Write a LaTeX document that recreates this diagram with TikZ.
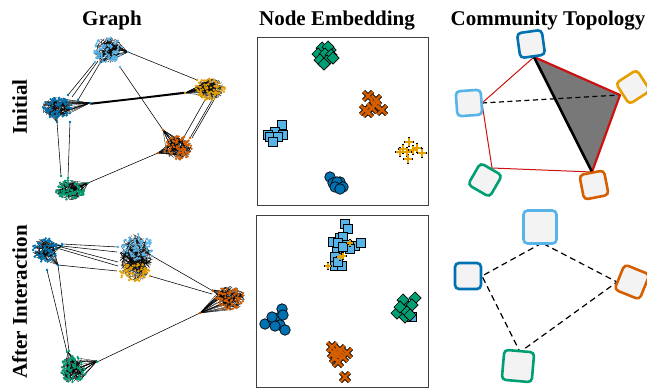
\documentclass[tikz,border=0pt]{standalone}
\usepackage{fontspec}
\setmainfont{Liberation Serif}
\definecolor{dblue}{HTML}{0072B2}
\definecolor{lblue}{HTML}{56B4E9}
\definecolor{yorg}{HTML}{E69F00}
\definecolor{verm}{HTML}{D55E00}
\definecolor{grn}{HTML}{009E73}
\definecolor{redl}{HTML}{CC1111}
\definecolor{trigray}{HTML}{787878}
\definecolor{sqfill}{HTML}{F3F3F3}
\newcommand\gmesh[5]{\foreach \k in {1,...,#5}{%
  \pgfmathsetmacro\ra{sqrt(rnd)}\pgfmathsetmacro\aa{360*rnd}%
  \pgfmathsetmacro\rb{sqrt(rnd)}\pgfmathsetmacro\ab{360*rnd}%
  \draw[meshl] ({#1+#3*\ra*cos(\aa)},{#2+#4*\ra*sin(\aa)}) -- ({#1+#3*\rb*cos(\ab)},{#2+#4*\rb*sin(\ab)});}}
\newcommand\gfan[7]{\foreach \k in {1,...,#7}{%
  \pgfmathsetmacro\ra{sqrt(rnd)}\pgfmathsetmacro\aa{360*rnd}%
  \draw[meshl] (#1,#2) -- ({#3+#5*\ra*cos(\aa)},{#4+#6*\ra*sin(\aa)});}}
\newcommand\gdots[6]{\foreach \k in {1,...,#6}{%
  \pgfmathsetmacro\ra{sqrt(rnd)}\pgfmathsetmacro\aa{360*rnd}%
  \fill[#5] ({#1+#3*\ra*cos(\aa)},{#2+#4*\ra*sin(\aa)}) circle[radius=1.3pt];}}
\begin{document}
\begin{tikzpicture}[x=1pt,y=-1pt,
  ttl/.style={font=\fontsize{21}{21}\selectfont\bfseries, anchor=base, inner sep=0},
  meshl/.style={black, line width=0.3pt},
  gedge/.style={black, line width=0.55pt},
  hub/.style={radius=1.3pt},
  ebox/.style={draw=black!75, line width=1pt},
  msq/.style={rectangle, draw=black, fill=lblue, line width=0.7pt, minimum size=8.5pt, inner sep=0},
  mci/.style={circle, draw=black, fill=dblue, line width=0.7pt, minimum size=10.5pt, inner sep=0},
  mdi/.style={rectangle, rotate=45, draw=black, fill=grn, line width=0.7pt, minimum size=8.5pt, inner sep=0},
  xo/.style={black, line width=4.4pt},
  xi/.style={verm, line width=2.8pt},
  po/.style={black, line width=2.8pt},
  pi/.style={yorg, line width=1.6pt},
  csq/.style={rectangle, rounded corners=4pt, fill=sqfill, line width=2.6pt, inner sep=0},
  tdash/.style={black, line width=1.2pt, dash pattern=on 5pt off 3.5pt},
  bdash/.style={black, line width=1.2pt, dash pattern=on 6pt off 4pt},
]
\useasboundingbox (0,0) rectangle (647,388);
\pgfmathsetseed{7}
% ---------- titles ----------
\node[ttl] (tgraph) at (112,25) {Graph};
\node[ttl] (temb) at (337,25) {Node Embedding};
\node[ttl] (ttop) at (548,25) {Community Topology};
\node[ttl, rotate=90] (tinit) at (27,107) {Initial};
\node[ttl, rotate=90] (tafter) at (27,302) {After Interaction};
% ---------- top graph ----------
\draw[gedge] (128,52) -- (197,80);
\draw[gedge] (95,62) -- (68,95) (100,63) -- (78,100) (98,61) -- (72,97);
\draw[gedge] (120,67) -- (163,130);
\draw[gedge] (90,103) -- (185,92.5) (90,104) -- (185,93) (90.5,104.5) -- (185.5,93.5) (90,103.5) -- (184.5,92);
\draw[gedge] (57,122) -- (61,176) (70,122) -- (68,178);
\draw[gedge] (88,183) -- (158,153);
\draw[gedge] (205,100) -- (184,137) (212,100) -- (190,138) (214,100) -- (192,138);
% LB
\gmesh{108}{50}{15}{13}{90}
\gfan{128}{52}{108}{50}{15}{13}{18}
\gfan{100}{63}{108}{50}{15}{13}{8}
\gdots{108}{50}{15}{13}{lblue}{85}
% DB
\gmesh{57}{108}{15}{11}{90}
\gfan{90}{103}{57}{108}{15}{11}{20}
\gfan{57}{122}{57}{108}{15}{11}{6}
\gdots{57}{108}{15}{11}{dblue}{85}
% Y
\gmesh{210}{89}{15}{11}{90}
\gfan{185}{93}{210}{89}{15}{11}{20}
\gdots{210}{89}{15}{11}{yorg}{85}
% V
\gmesh{178}{148}{14}{12}{90}
\gfan{158}{153}{178}{148}{14}{12}{16}
\gfan{163}{130}{178}{148}{14}{12}{14}
\gdots{178}{148}{14}{12}{verm}{85}
% G
\gmesh{70}{190}{15}{10}{90}
\gfan{88}{183}{70}{190}{15}{10}{18}
\gdots{70}{190}{15}{10}{grn}{85}
\foreach \p in {(128,52),(95,62),(100,63),(120,67)} \fill[lblue] \p circle[hub];
\foreach \p in {(90,103),(57,122),(70,122),(68,95),(78,100)} \fill[dblue] \p circle[hub];
\foreach \p in {(185,93),(197,80),(205,100),(212,100)} \fill[yorg] \p circle[hub];
\foreach \p in {(158,153),(163,130),(184,137),(190,138)} \fill[verm] \p circle[hub];
\foreach \p in {(88,183),(61,176),(68,178)} \fill[grn] \p circle[hub];
% ---------- bottom graph ----------
\draw[gedge] (62,244) -- (118,247) (62,246) -- (117,252) (60,249) -- (118,266) (58,265) -- (117,271) (61,247) -- (118,262);
\draw[gedge] (152,256) -- (213,291) (150,276) -- (212,294);
\draw[gedge] (47,270) -- (67,352) (58,265) -- (69,351);
\draw[gedge] (97,362) -- (200,313);
% DB
\gmesh{45}{250}{13}{12}{90}
\gfan{62}{246}{45}{250}{13}{12}{12}
\gfan{58}{265}{45}{250}{13}{12}{10}
\gdots{45}{250}{13}{12}{dblue}{75}
% LB + Y
\gmesh{136}{258}{17}{24}{170}
\gdots{137}{247}{16}{13}{lblue}{85}
\gdots{134}{272}{16}{10}{yorg}{70}
% V
\gmesh{230}{298}{15}{12}{90}
\gfan{200}{313}{230}{298}{15}{12}{24}
\gfan{212}{290}{230}{298}{15}{12}{10}
\gdots{230}{298}{15}{12}{verm}{85}
% G
\gmesh{73}{370}{13}{14}{90}
\gfan{97}{361}{73}{370}{13}{14}{20}
\gfan{68}{352}{73}{370}{13}{14}{8}
\gdots{73}{370}{13}{14}{grn}{85}
\foreach \p in {(62,244),(62,246),(58,265),(47,270)} \fill[dblue] \p circle[hub];
\foreach \p in {(118,247),(152,256)} \fill[lblue] \p circle[hub];
\foreach \p in {(150,276)} \fill[yorg] \p circle[hub];
\foreach \p in {(200,313),(213,291)} \fill[verm] \p circle[hub];
\foreach \p in {(97,362),(67,352),(69,351)} \fill[grn] \p circle[hub];
% ---------- embedding boxes ----------
\draw[ebox] (257,37) rectangle (428,205);
\draw[ebox] (256,215) rectangle (428,387);
% top box
\foreach \p in {(330,50),(322,48),(328,47),(318,54),(325,54),(331,55),(320,60),(327,61),(333,58),(324,64)} \node[mdi] at \p {};
\foreach \x/\y in {368/96,376/100,375/105,365/110,372/108,382/110,368/112} {\draw[xo] (\x-4.5,\y-4.5) -- (\x+4.5,\y+4.5) (\x-4.5,\y+4.5) -- (\x+4.5,\y-4.5);}
\foreach \x/\y in {368/96,376/100,375/105,365/110,372/108,382/110,368/112} {\draw[xi] (\x-4.5,\y-4.5) -- (\x+4.5,\y+4.5) (\x-4.5,\y+4.5) -- (\x+4.5,\y-4.5);}
\foreach \p in {(282,125),(275,132),(268,135),(283,135),(270,137),(278,137),(273,142)} \node[msq] at \p {};
\foreach \x/\y in {409/142,400/152,407/152,413/150,422/153,408/159,417/148,403/149} {\draw[po] (\x-5,\y) -- (\x+5,\y) (\x,\y-5) -- (\x,\y+5);}
\foreach \x/\y in {409/142,400/152,407/152,413/150,422/153,408/159,417/148,403/149} {\draw[pi] (\x-4.2,\y) -- (\x+4.2,\y) (\x,\y-4.2) -- (\x,\y+4.2);}
\foreach \p in {(330,177),(340,182),(333,183),(337,182),(335,187),(343,187),(340,189)} \node[mci] at \p {};
% bottom box
\node[msq] at (412,317) {};
\foreach \p in {(403,300),(415,298),(408,307),(397,313),(405,317),(400,307),(412,305),(407,312),(410,315)} \node[mdi] at \p {};
\foreach \p in {(345,224),(348,229),(333,242),(340,238),(343,237),(338,243),(347,245),(355,246),(361,243),(350,249),(337,252),(335,257),(335,266),(342,266),(338,262),(343,247)} \node[msq] at \p {};
\foreach \x/\y in {328/266,343/256,340/257,350/243} {\draw[black, line width=2.4pt] (\x-4,\y) -- (\x+4,\y) (\x,\y-4) -- (\x,\y+4);}
\foreach \x/\y in {328/266,343/256,340/257,350/243} {\draw[yorg, line width=1.4pt] (\x-3.4,\y) -- (\x+3.4,\y) (\x,\y-3.4) -- (\x,\y+3.4);}
\foreach \p in {(282,309),(265,324),(273,320),(278,318),(280,325),(285,330),(275,326),(283,315),(272,317)} \node[mci] at \p {};
\foreach \x/\y in {332/347,340/350,337/355,343/357,333/353,338/362,347/353,335/358,345/377} {\draw[xo] (\x-4.5,\y-4.5) -- (\x+4.5,\y+4.5) (\x-4.5,\y+4.5) -- (\x+4.5,\y-4.5);}
\foreach \x/\y in {332/347,340/350,337/355,343/357,333/353,338/362,347/353,335/358,345/377} {\draw[xi] (\x-4.5,\y-4.5) -- (\x+4.5,\y+4.5) (\x-4.5,\y+4.5) -- (\x+4.5,\y-4.5);}
% ---------- community topology: initial ----------
\coordinate (ct) at (534,57);
\coordinate (cr) at (620,95);
\coordinate (cl) at (482,103);
\coordinate (cbl) at (492,168);
\coordinate (cbr) at (592,172);
\fill[trigray] (ct) -- (cr) -- (cbr) -- cycle;
\draw[tdash] (cl) -- (cr);
\draw[redl, line width=1pt, line join=round] (ct) -- (cl) -- (cbl) -- (cbr);
\draw[redl, line width=2.2pt, line join=round] (ct) -- (cr) -- (cbr);
\draw[black, line width=2.6pt] (ct) -- (cbr);
\node[csq, draw=dblue, minimum size=25pt, rotate=8] (sdb) at (531,44) {};
\node[csq, draw=yorg, minimum size=25pt, rotate=33] (sy) at (633,87) {};
\node[csq, draw=lblue, minimum size=25pt, rotate=4] (slb) at (469,103) {};
\node[csq, draw=grn, minimum size=25pt, rotate=-30] (sg) at (485,180) {};
\node[csq, draw=verm, minimum size=25pt, rotate=11] (sv) at (594,185) {};
% ---------- community topology: after ----------
\coordinate (dlb) at (542,243);
\coordinate (ddb) at (482,276);
\coordinate (dg) at (520,352);
\coordinate (dv) at (617,282);
\draw[bdash] (dlb) -- (ddb) -- (dg) -- (dv) -- cycle;
\node[csq, draw=lblue, minimum size=33pt] (tlb) at (540,227) {};
\node[csq, draw=dblue, minimum size=26pt] (tdb) at (468,276) {};
\node[csq, draw=verm, minimum size=27pt, rotate=-22] (tv) at (632,282) {};
\node[csq, draw=grn, minimum size=30pt, rotate=-5] (tg) at (518,366) {};
\end{tikzpicture}
\end{document}
